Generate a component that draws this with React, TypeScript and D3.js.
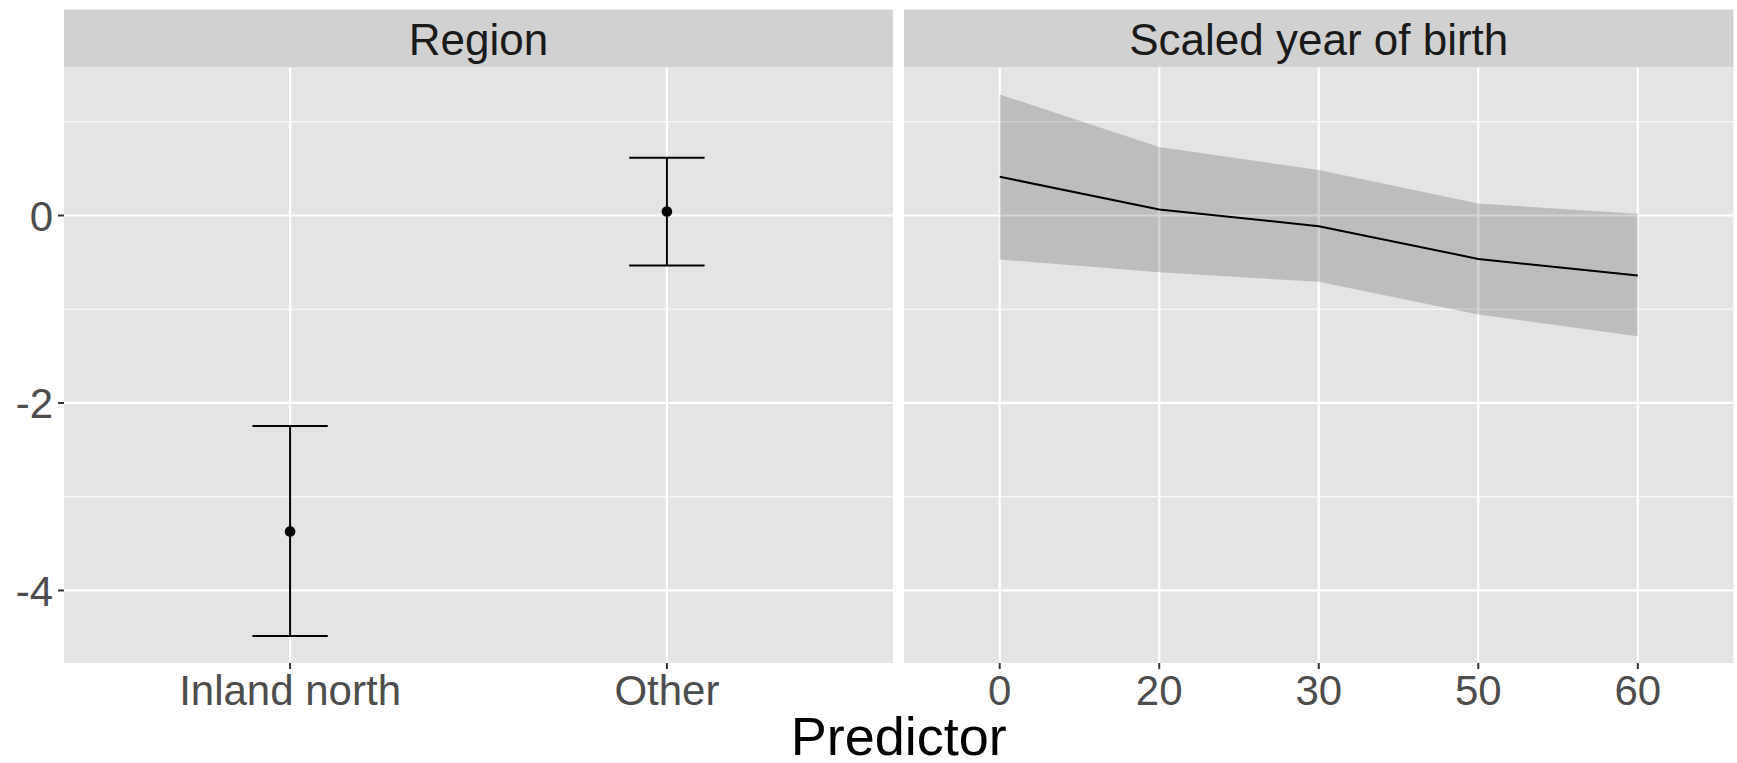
import React from 'react';
import * as d3 from 'd3';

// Region panel (categorical, point + error bar)
const regionCats = ['Inland north', 'Other'];
const regionFit = [-3.37, 0.043];
const regionLower = [-4.485, -0.533];
const regionUpper = [-2.246, 0.616];

// Scaled year of birth panel (discrete levels, line + ribbon)
const yobCats = ['0', '20', '30', '50', '60'];
const yobFit = [0.413, 0.064, -0.114, -0.463, -0.641];
const yobLower = [-0.47, -0.605, -0.708, -1.057, -1.289];
const yobUpper = [1.292, 0.73, 0.484, 0.128, 0.018];

const panelTitles = ['Region', 'Scaled year of birth'];
const xTitle = 'Predictor';

const W = 1737;
const H = 763;
const FONT = '"Liberation Sans", Arial, Helvetica, sans-serif';
const PANEL_BG = '#E4E4E4';
const STRIP_BG = '#D1D1D1';

const App: React.FC = () => {
  const stripTop = 9.5;
  const panelTop = 67.3;
  const panelBottom = 663;
  const panels = [
    { x0: 64, x1: 893 },
    { x0: 904, x1: 1733.5 },
  ];

  // y domain = data extent expanded 5% each side (ggplot default)
  const allVals = [...regionLower, ...regionUpper, ...yobLower, ...yobUpper];
  const lo = d3.min(allVals) as number;
  const hi = d3.max(allVals) as number;
  const pad = (hi - lo) * 0.05;
  const yScale = d3.scaleLinear().domain([lo - pad, hi + pad]).range([panelBottom, panelTop]);

  const majorTicks = yScale.ticks(3);
  const step = majorTicks[1] - majorTicks[0];
  const minorTicks = d3
    .range(majorTicks[0] - step / 2, hi + pad, step)
    .filter((v) => v >= lo - pad && v <= hi + pad);

  const xRegion = d3.scalePoint<string>().domain(regionCats).range([panels[0].x0, panels[0].x1]).padding(0.6);
  const xYob = d3.scalePoint<string>().domain(yobCats).range([panels[1].x0, panels[1].x1]).padding(0.6);
  const xScales = [xRegion, xYob];

  const capHalf = xRegion.step() * 0.1;

  const ribbon = d3
    .area<number>()
    .x((_, i) => xYob(yobCats[i]) as number)
    .y0((_, i) => yScale(yobLower[i]))
    .y1((_, i) => yScale(yobUpper[i]));
  const fitLine = d3
    .line<number>()
    .x((_, i) => xYob(yobCats[i]) as number)
    .y((d) => yScale(d));

  return (
    <div style={{ width: W, height: H }}>
      <style>{`body{margin:0}`}</style>
      <svg width={W} height={H} style={{ display: 'block', background: '#fff', fontFamily: FONT }}>
        {panels.map((p, pi) => {
          const xs = xScales[pi];
          return (
            <g key={pi}>
              {/* strip */}
              <rect x={p.x0} y={stripTop} width={p.x1 - p.x0} height={panelTop - stripTop} fill={STRIP_BG} />
              <text x={(p.x0 + p.x1) / 2} y={55} textAnchor="middle" fontSize={44} fill="#1A1A1A">
                {panelTitles[pi]}
              </text>
              {/* panel background + grid */}
              <rect x={p.x0} y={panelTop} width={p.x1 - p.x0} height={panelBottom - panelTop} fill={PANEL_BG} />
              {minorTicks.map((t) => (
                <line key={'mn' + t} x1={p.x0} x2={p.x1} y1={yScale(t)} y2={yScale(t)} stroke="#fff" strokeWidth={1.1} />
              ))}
              {majorTicks.map((t) => (
                <line key={'mj' + t} x1={p.x0} x2={p.x1} y1={yScale(t)} y2={yScale(t)} stroke="#fff" strokeWidth={2.2} />
              ))}
              {xs.domain().map((c) => (
                <line key={'vx' + c} x1={xs(c)} x2={xs(c)} y1={panelTop} y2={panelBottom} stroke="#fff" strokeWidth={2.2} />
              ))}
              {/* x ticks + labels */}
              {xs.domain().map((c) => (
                <g key={'xt' + c}>
                  <line x1={xs(c)} x2={xs(c)} y1={panelBottom} y2={panelBottom + 6} stroke="#333333" strokeWidth={2} />
                  <text x={xs(c)} y={705} textAnchor="middle" fontSize={42} fill="#4D4D4D">
                    {c}
                  </text>
                </g>
              ))}
            </g>
          );
        })}

        {/* y axis ticks + labels */}
        {majorTicks.map((t) => (
          <g key={'yt' + t}>
            <line x1={panels[0].x0 - 6} x2={panels[0].x0} y1={yScale(t)} y2={yScale(t)} stroke="#333333" strokeWidth={2} />
            <text x={panels[0].x0 - 11} y={yScale(t)} dy="0.36em" textAnchor="end" fontSize={42} fill="#4D4D4D">
              {t}
            </text>
          </g>
        ))}

        {/* Region error bars */}
        {regionCats.map((c, i) => {
          const cx = xRegion(c) as number;
          return (
            <g key={'eb' + c}>
              <line x1={cx} x2={cx} y1={yScale(regionLower[i])} y2={yScale(regionUpper[i])} stroke="#000" strokeWidth={2} />
              <line x1={cx - capHalf} x2={cx + capHalf} y1={yScale(regionLower[i])} y2={yScale(regionLower[i])} stroke="#000" strokeWidth={2} />
              <line x1={cx - capHalf} x2={cx + capHalf} y1={yScale(regionUpper[i])} y2={yScale(regionUpper[i])} stroke="#000" strokeWidth={2} />
              <circle cx={cx} cy={yScale(regionFit[i])} r={5.3} fill="#000" />
            </g>
          );
        })}

        {/* Year of birth ribbon + fit */}
        <path d={ribbon(yobFit) || ''} fill="#000" fillOpacity={0.17} />
        <path d={fitLine(yobFit) || ''} fill="none" stroke="#000" strokeWidth={2} />

        {/* axis title */}
        <text x={(panels[0].x0 + panels[1].x1) / 2} y={755} textAnchor="middle" fontSize={54} fill="#000">
          {xTitle}
        </text>
      </svg>
    </div>
  );
};

export default App;
